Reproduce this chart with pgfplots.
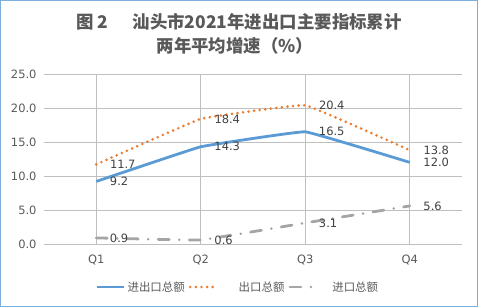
\documentclass[border=0pt]{standalone}
\usepackage{fontspec}
\usepackage{pgfplots}
\pgfplotsset{compat=1.18}
\setmainfont{DejaVu Sans}
\newfontfamily\cjk{Noto Sans CJK SC}
\definecolor{cblue}{HTML}{5B9BD5}
\definecolor{corange}{HTML}{ED7D31}
\definecolor{cgray}{HTML}{A5A5A5}
\definecolor{tgray}{HTML}{595959}
\definecolor{lgray}{HTML}{404040}
\definecolor{grid}{HTML}{D9D9D9}
\begin{document}
\begin{tikzpicture}
\useasboundingbox (0,0) rectangle (478bp,307bp);
\draw[cblue!80, line width=1.2bp] (0.6bp,0.6bp) rectangle (477.4bp,306.4bp);
\node[font=\cjk\bfseries\fontsize{17.5}{20}\selectfont, text=tgray] at (239bp,285.5bp)
  {图 2\hspace{1.4em}汕头市2021年进出口主要指标累计};
\node[font=\cjk\bfseries\fontsize{17.5}{20}\selectfont, text=tgray] at (235bp,261.5bp)
  {两年平均增速（\%）};
\begin{axis}[
  at={(44bp,63bp)}, anchor=south west,
  scale only axis, width=418bp, height=170bp,
  xmin=-0.5, xmax=3.5, ymin=0, ymax=25,
  xtick={0,1,2,3}, xticklabels={Q1,Q2,Q3,Q4},
  ytick={0,5,...,25},
  yticklabel={\pgfmathprintnumber[fixed,fixed zerofill,precision=1]{\tick}},
  /pgf/number format/assume math mode=true,
  major tick length=0pt,
  axis line style={draw=none},
  ymajorgrids, major grid style={grid, line width=0.9bp},
  ticklabel style={font=\fontsize{11.5}{13}\selectfont, text=tgray},
  yticklabel style={xshift=-4bp},
  xticklabel style={yshift=-7bp},
  nodes near coords={\pgfmathprintnumber[fixed,fixed zerofill,precision=1]{\pgfplotspointmeta}},
  every node near coord/.append style={anchor=west, xshift=9bp, yshift=0bp,
    font=\fontsize{11.5}{13}\selectfont, text=lgray},
  legend style={draw=none, fill=none, at={(0.464,-0.253)}, anchor=center,
    legend columns=3, font=\cjk\fontsize{11.5}{13}\selectfont, text=tgray,
    /tikz/every even column/.append style={column sep=2bp}},
  legend image code/.code={\draw[#1] (0bp,0bp) -- (27bp,0bp);},
]
\addplot[cblue, line width=2.8bp, smooth, tension=0.12] coordinates {
  (0,9.2) (1,14.3) (2,16.5) (3,12.0)
};
\addplot[corange, line width=2.9bp, line cap=round, dash pattern=on 0bp off 5.6bp, smooth, tension=0.12] coordinates {
  (0,11.7) (1,18.4) (2,20.4) (3,13.8)
};
\addplot[cgray, line width=2.8bp, line cap=round, dash pattern=on 11bp off 10bp on 0bp off 10bp, smooth, tension=0.12] coordinates {
  (0,0.9) (1,0.6) (2,3.1) (3,5.6)
};
\legend{进出口总额,\hspace{18bp}出口总额,\hspace{12bp}进口总额}
\end{axis}
\end{tikzpicture}
\end{document}
